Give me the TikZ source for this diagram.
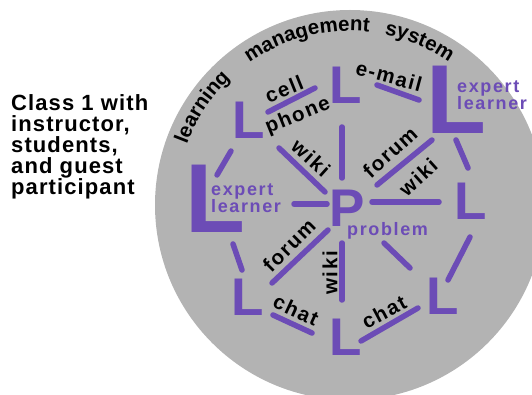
\documentclass[tikz,border=0pt]{standalone}
\usepackage{fontspec}
\setmainfont{Liberation Sans}
\newfontfamily\lblfont{Liberation Sans}[LetterSpace=8]
\newfontfamily\prpfont{Liberation Sans}[LetterSpace=9]
\newfontfamily\hdfont{Liberation Sans}[LetterSpace=5]
\newfontfamily\arcfnt{Liberation Sans}[LetterSpace=5]
\usetikzlibrary{decorations.text}
\definecolor{purp}{RGB}{108,76,182}
\definecolor{circgray}{RGB}{179,179,179}
\tikzset{
  lbl/.style={font=\lblfont\bfseries\fontsize{20.5}{20.5}\selectfont, text=black, inner sep=0pt},
  plab/.style={font=\prpfont\bfseries\fontsize{18}{17}\selectfont, text=purp, inner sep=0pt, anchor=base west},
  smallL/.style={font=\bfseries\fontsize{53}{53}\selectfont, text=purp, inner sep=0pt, anchor=base west},
  bigL/.style={font=\bfseries\fontsize{98}{98}\selectfont, text=purp, inner sep=0pt, anchor=base west},
  bar/.style={draw=purp, line width=5.5pt, line cap=round},
  arcword/.style={decorate, decoration={text along path, text align=center, text={|\arcfnt\bfseries\fontsize{20.5}{20.5}\selectfont|#1}}}
}
\begin{document}
\begin{tikzpicture}[x=1pt,y=-1pt]
\useasboundingbox (0,0) rectangle (532,395);
\clip (0,0) rectangle (532,395);
\fill[circgray] (350,205) coordinate (C) circle[radius=195];

% heading
\node[font=\hdfont\bfseries\fontsize{22}{21}\selectfont, align=left, anchor=north west, inner sep=0pt] (head) at (11,94)
  {Class 1 with\\instructor,\\students,\\and guest\\participant};

% arc text
\path[arcword=learning] (C) ++(-170:174) arc[start angle=-170, end angle=-123, radius=174];
\path[arcword=management] (C) ++(-131:174) arc[start angle=-131, end angle=-78, radius=174];
\path[arcword=system] (C) ++(-90:174) arc[start angle=-90, end angle=-44, radius=174];

% learner nodes
\node[smallL] (L1) at (232,139) {L};
\node[smallL] (L2) at (329,104) {L};
\node[bigL] (EL1) at (426,134) {L};
\node[bigL] (EL2) at (185,233) {L};
\node[smallL] (LR) at (454,219) {L};
\node[smallL] (LBL) at (231,315) {L};
\node[smallL] (LBC) at (329,355) {L};
\node[smallL] (LBR) at (426,314) {L};
\node[smallL] (P) at (329,226) {P};

% purple labels
\node[plab] (ex1) at (457,93) {expert};
\node[plab] (le1) at (457,110) {learner};
\node[plab] (ex2) at (211,196) {expert};
\node[plab] (le2) at (211,213) {learner};
\node[plab] (prob) at (347,235) {problem};

% black labels
\node[lbl, rotate=22] (cell) at (284,89) {cell};
\node[lbl, rotate=22] (phone) at (298,116) {phone};
\node[lbl, rotate=-15] (email) at (389,76) {e-mail};
\node[lbl, rotate=-42] (wiki1) at (311,158) {wiki};
\node[lbl, rotate=42] (forum1) at (390,152) {forum};
\node[lbl, rotate=42] (wiki2) at (418,177) {wiki};
\node[lbl, rotate=45] (forum2) at (289,245) {forum};
\node[lbl, rotate=90] (wiki3) at (330,273) {wiki};
\node[lbl, rotate=-25] (chat1) at (296,310) {chat};
\node[lbl, rotate=28] (chat2) at (384,312) {chat};

% connector ends
\coordinate (a1) at (268,112); \coordinate (b1) at (315,88);
\coordinate (a2) at (377,85);  \coordinate (b2) at (419,100);
\coordinate (a3) at (279,148); \coordinate (b3) at (325,192);
\coordinate (a4) at (342,127); \coordinate (b4) at (342,178);
\coordinate (a5) at (377,185); \coordinate (b5) at (432,140);
\coordinate (a6) at (456,140); \coordinate (b6) at (468,168);
\coordinate (a7) at (231,151); \coordinate (b7) at (217,175);
\coordinate (a8) at (294,204); \coordinate (b8) at (327,204);
\coordinate (a9) at (372,202); \coordinate (b9) at (439,202);
\coordinate (a10) at (233,244); \coordinate (b10) at (242,270);
\coordinate (a11) at (272,283); \coordinate (b11) at (328,230);
\coordinate (a12) at (342,243); \coordinate (b12) at (342,300);
\coordinate (a13) at (384,243); \coordinate (b13) at (410,268);
\coordinate (a14) at (470,237); \coordinate (b14) at (448,280);
\coordinate (a15) at (273,315); \coordinate (b15) at (312,333);
\coordinate (a16) at (361,341); \coordinate (b16) at (418,308);
\foreach \i in {1,...,16} {\draw[bar] (a\i) -- (b\i);}
\end{tikzpicture}
\end{document}
